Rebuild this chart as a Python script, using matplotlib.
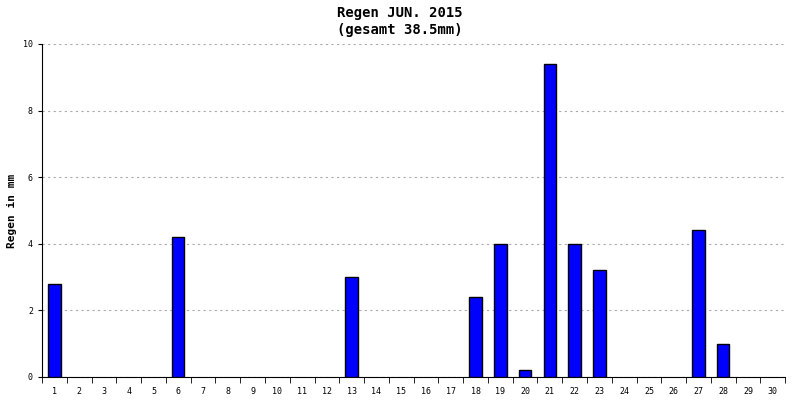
import matplotlib.pyplot as plt
import numpy as np

days = list(range(1, 31))
rain = [2.8, 0, 0, 0, 0, 4.2, 0, 0, 0, 0, 0, 0, 3.0, 0, 0, 0, 0, 2.4, 4.0, 0.2,
        9.4, 4.0, 3.2, 0, 0, 0, 4.4, 1.0, 0, 0]
title = "Regen JUN. 2015\n(gesamt 38.5mm)"

plt.rcParams['font.family'] = 'DejaVu Sans Mono'
fig = plt.figure(figsize=(8, 4), dpi=100)
ax = fig.add_axes([0.0525, 0.0575, 0.929, 0.8325])

x = np.array(days) - 0.5
wet = [i for i, v in enumerate(rain) if v > 0]
ax.bar(x[wet], [rain[i] for i in wet], width=0.5, color='#0000ff',
       edgecolor='black', linewidth=1, zorder=3)
ax.set_xlim(0, 30)
ax.set_ylim(0, 10)
ax.set_xticks(x)
ax.set_xticklabels([str(d) for d in days], fontsize=6)
ax.set_xticks(np.arange(0, 31), minor=True)
ax.tick_params(axis='x', which='major', length=0, pad=7)
ax.tick_params(axis='x', which='minor', length=4, direction='out')
ax.set_yticks([0, 2, 4, 6, 8, 10])
ax.tick_params(axis='y', labelsize=6, length=3)
ax.grid(axis='y', linestyle=(0, (2, 3)), color='#aaaaaa', linewidth=0.8, zorder=0)
for s in ['top', 'right']:
    ax.spines[s].set_visible(False)
ax.set_ylabel("Regen in mm", fontsize=8, fontweight='bold')
fig.suptitle(title, fontsize=10, fontweight='bold', y=0.985, linespacing=1.3)

fig.savefig('out.png', dpi=100)
